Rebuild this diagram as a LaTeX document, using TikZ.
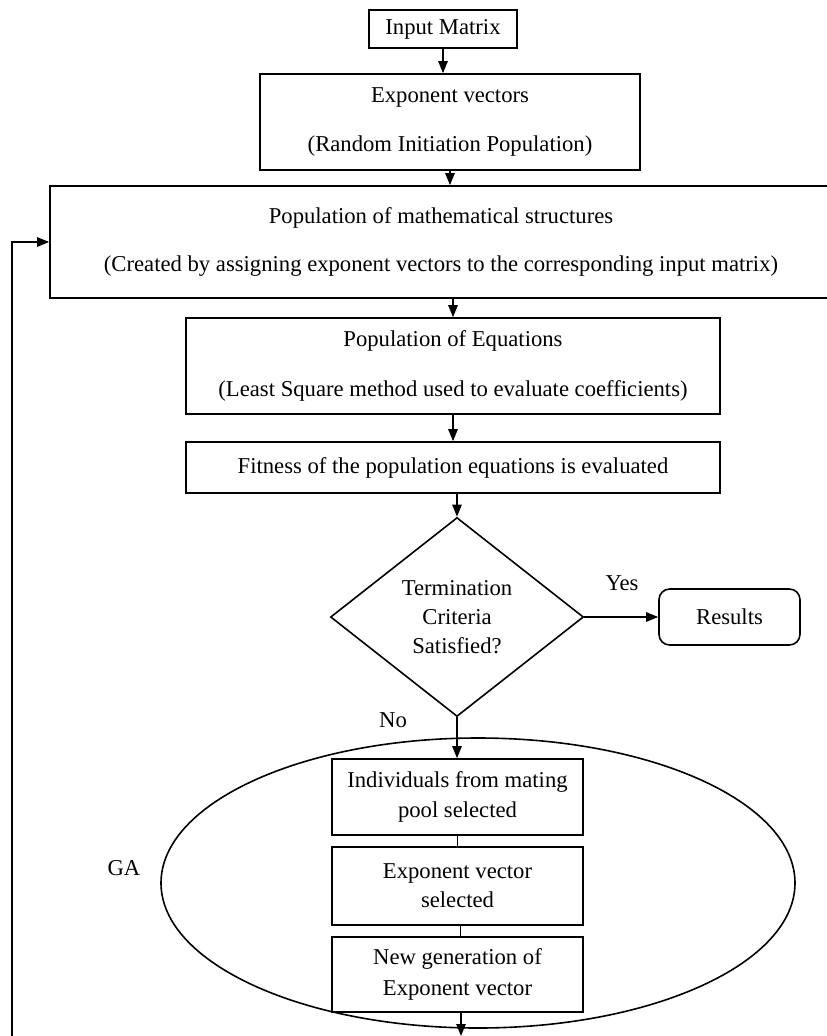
\documentclass[tikz,border=0pt]{standalone}
\usepackage{fontspec}
\setmainfont{Liberation Serif}
\usetikzlibrary{shapes.geometric,arrows.meta,calc}
\begin{document}
\begin{tikzpicture}[x=0.75pt,y=-0.75pt,
  every node/.style={font=\fontsize{17}{20}\selectfont},
  box/.style={draw,line width=1.2pt,rectangle,inner sep=0pt,align=center},
  arr/.style={line width=1.2pt,-{Triangle[length=9pt,width=7pt]}},
  ln/.style={line width=1.2pt}]
\useasboundingbox (0,0) rectangle (826,1036);
% boxes
\node[box,minimum width=148*0.75pt,minimum height=38*0.75pt] (inp) at (443,29) {Input Matrix};
\node[box,minimum width=380*0.75pt,minimum height=96*0.75pt] (exp) at (450,122) {Exponent vectors\\[17pt](Random Initiation Population)};
\node[box,minimum width=782*0.75pt,minimum height=112*0.75pt] (pop) at (441,242) {Population of mathematical structures\\[16.5pt](Created by assigning exponent vectors to the corresponding input matrix)};
\node[box,minimum width=534*0.75pt,minimum height=96*0.75pt] (peq) at (453,366) {Population of Equations\\[17pt](Least Square method used to evaluate coefficients)};
\node[box,minimum width=534*0.75pt,minimum height=51*0.75pt] (fit) at (453,467.5) {Fitness of the population equations is evaluated};
\node[draw,line width=1.2pt,diamond,inner sep=0pt,aspect=1.27,minimum width=253*0.75pt,minimum height=199*0.75pt,align=center] (dia) at (457,617) {Termination\\[2pt]Criteria\\[2pt]Satisfied?};
\node[box,rounded corners=8pt,minimum width=141*0.75pt,minimum height=56*0.75pt] (res) at (729.5,617) {Results};
\node (yes) at (622,583) {Yes};
\node (no) at (393,720) {No};
% GA ellipse
\node[draw,line width=1.2pt,ellipse,inner sep=0pt,minimum width=634*0.75pt,minimum height=290*0.75pt] (ga) at (478,883) {};
\node (galbl) at (124,868) {GA};
\node[box,minimum width=251*0.75pt,minimum height=76*0.75pt] (b1) at (457.5,797) {Individuals from mating\\[2pt]pool selected};
\node[box,minimum width=251*0.75pt,minimum height=78*0.75pt] (b2) at (457.5,886) {Exponent vector\\[1.5pt]selected};
\node[box,minimum width=251*0.75pt,minimum height=75*0.75pt] (b3) at (457.5,974.5) {New generation of\\[3pt]Exponent vector};
% connectors
\coordinate (loopstart) at (12,1036);
\coordinate (bend) at (461,1036);
\draw[arr] (inp.south) -- (inp.south |- exp.north);
\draw[arr] (exp.south) -- (exp.south |- pop.north);
\draw[arr] (pop.south -| peq.north) -- (peq.north);
\draw[arr] (peq.south) -- (fit.north);
\draw[arr] (fit.south -| dia.north) -- (dia.north);
\draw[arr] (dia.east) -- (res.west);
\draw[arr] (dia.south) -- (dia.south |- b1.north);
\draw[ln] (b1.south) -- (b2.north);
\draw[ln] ($(b2.south)+(3,0)$) -- ($(b3.north)+(3,0)$);
\draw[arr] (bend |- b3.south) -- (bend);
\draw[arr] (loopstart) |- (pop.west);
\end{tikzpicture}
\end{document}
